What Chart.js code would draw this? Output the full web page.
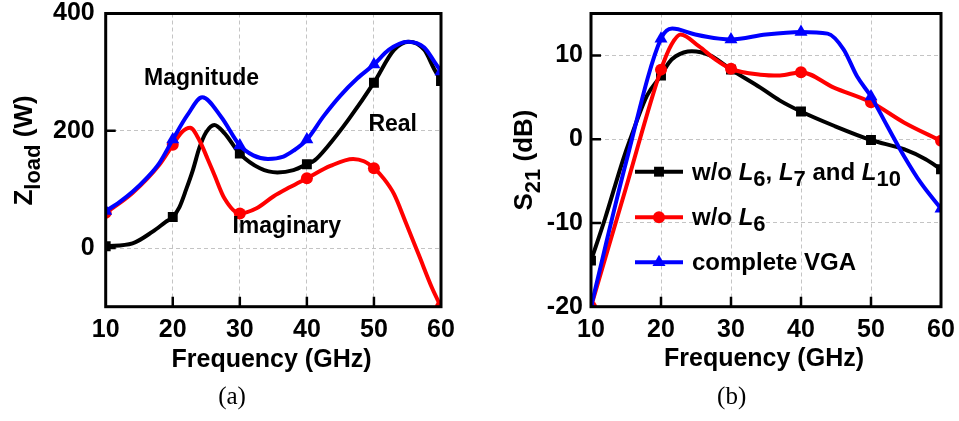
<!DOCTYPE html>
<html><head><meta charset="utf-8">
<script src="https://cdn.jsdelivr.net/npm/chart.js@4.4.1/dist/chart.umd.min.js"></script>
<style>
html,body{margin:0;padding:0;background:#fff;width:959px;height:421px;overflow:hidden}
canvas{position:absolute;top:0}
#ca{left:0}
#cb{left:480px}
</style></head><body>
<canvas id="ca" width="480" height="421"></canvas>
<canvas id="cb" width="479" height="421"></canvas>
<script>
const FONT = "'Liberation Sans', Arial, Helvetica, sans-serif";
const SERIF = "'Liberation Serif', 'Times New Roman', serif";

// ---------- shared x axis ----------
const freqMarks = [10, 20, 30, 40, 50, 60];
const freqTicks = [10, 20, 30, 40, 50, 60];
const freqTickLabels = ['10', '20', '30', '40', '50', '60'];

// ---------- panel (a): Z_load ----------
const zTicks = [0, 200, 400];
const zTickLabels = ['0', '200', '400'];
const magMarks  = [63, 185, 175, 185, 313, 301];
const realMarks = [3, 53, 161, 143, 282, 285];
const imagMarks = [60, 176, 59, 119, 136, -100];

const magCurveF = [10, 12, 14, 16, 18, 20, 22.2, 24.4, 27.2, 30, 32, 34.2, 36.5, 38, 40, 42.5, 45, 47.5, 50, 52.2, 55, 57.5, 59, 60];
const magCurveV = [63, 78, 96, 118, 145, 185, 227, 257, 224, 175, 158, 152, 156, 166, 185, 225, 260, 289, 313, 338, 352, 342, 318, 301];

const realCurveF = [10, 14, 17, 19, 20, 21, 22, 23, 24, 25, 26.2, 27.7, 30, 33, 35.6, 38, 40, 41.2, 43, 46.2, 50, 53, 55.2, 57.5, 59, 60];
const realCurveV = [3, 8, 28, 45, 53, 70, 100, 133, 172, 198, 210, 196, 161, 136, 129, 133, 143, 150, 172, 219, 282, 338, 352, 338, 305, 285];

const imagCurveF = [10, 14, 18, 20, 21.3, 22.6, 24, 25.2, 26.2, 27.7, 30, 32.5, 35, 37.5, 40, 43.5, 46.9, 48.5, 50, 51.5, 53, 54.7, 56.7, 58.7, 60];
const imagCurveV = [60, 94, 142, 176, 197, 205, 183, 152, 125, 85, 59, 68, 88, 104, 119, 140, 152, 148, 136, 118, 92, 45, -12, -69, -100];

// ---------- panel (b): S21 ----------
const sTicks = [-20, -10, 0, 10];
const sTickLabels = ['-20', '-10', '0', '10'];
const noL6L7L10Marks = [-14.5, 7.6, 8.3, 3.3, -0.1, -3.6];
const noL6Marks      = [-20, 8.3, 8.4, 8.0, 4.4, -0.2];
const vgaMarks       = [-20, 12.0, 11.9, 12.8, 5.1, -8.3];

const noL6L7L10CurveF = [10, 12, 14.6, 15.6, 18, 20, 21.1, 22.1, 24.4, 27, 30, 34.2, 37, 40, 44.7, 50, 54.7, 57.8, 60];
const noL6L7L10CurveV = [-14.5, -9.5, -2.4, 0, 5.2, 7.6, 9.1, 9.9, 10.5, 10.0, 8.3, 6.15, 4.6, 3.3, 1.6, -0.1, -1.2, -2.4, -3.6];

const noL6CurveF = [10, 15, 20, 21.5, 22.8, 25.4, 27.8, 30, 34.2, 37, 40, 44.7, 50, 54.7, 60];
const noL6CurveV = [-20, -5.8, 8.3, 11.3, 12.5, 11.1, 9.5, 8.4, 7.7, 7.6, 8.0, 6.15, 4.4, 2.0, -0.2];

const vgaCurveF = [10, 15, 20, 21.6, 24.9, 28.3, 30, 35, 40, 43.8, 46.1, 48, 50, 52.3, 54.7, 57.1, 60];
const vgaCurveV = [-20, -2.8, 12.0, 13.2, 12.5, 12.0, 11.9, 12.5, 12.8, 12.6, 10.7, 7.5, 5.1, 1.6, -2.0, -5.2, -8.3];

const BLACK = '#000000', RED = '#ff0000', BLUE = '#0000ff';

// ---------- helpers ----------
function curve(xs, ys, color, order) {
  return { data: xs.map((x, i) => ({ x, y: ys[i] })), borderColor: color, borderWidth: 4,
    pointRadius: 0, pointHoverRadius: 0, tension: 0.4, cubicInterpolationMode: 'monotone',
    fill: false, clip: 0, order };
}
function marks(ys, color, style, r, order) {
  return { data: freqMarks.map((x, i) => ({ x, y: ys[i] })), showLine: false, pointStyle: style,
    pointRadius: r, pointHoverRadius: r, pointBackgroundColor: color, pointBorderColor: color,
    pointBorderWidth: 0, clip: 0, order };
}
function drawRich(ctx, x, y, parts, size, subSize, subDy, align) {
  const fontFor = f => (f.includes('i') ? 'italic ' : '') + 'bold ' + (f.includes('s') ? subSize : size) + 'px ' + FONT;
  let w = 0;
  parts.forEach(([t, f]) => { ctx.font = fontFor(f); w += ctx.measureText(t).width; });
  let cx = align === 'center' ? x - w / 2 : x;
  ctx.textAlign = 'left'; ctx.textBaseline = 'alphabetic';
  parts.forEach(([t, f]) => {
    ctx.font = fontFor(f);
    ctx.fillText(t, cx, y + (f.includes('s') ? subDy : 0));
    cx += ctx.measureText(t).width;
  });
}
function frameAndTicks(chart) {
  const { ctx, chartArea: a, scales: { x, y } } = chart;
  ctx.save();
  ctx.strokeStyle = '#000';
  ctx.lineWidth = 2.5;
  ctx.beginPath();
  x.ticks.forEach(t => {
    if (t.value <= x.min || t.value >= x.max) return;
    const px = x.getPixelForValue(t.value);
    ctx.moveTo(px, a.bottom); ctx.lineTo(px, a.bottom - 10);
  });
  y.ticks.forEach(t => {
    if (t.value <= y.min || t.value >= y.max) return;
    const py = y.getPixelForValue(t.value);
    ctx.moveTo(a.left, py); ctx.lineTo(a.left + 10, py);
  });
  ctx.stroke();
  ctx.lineWidth = 3;
  ctx.strokeRect(a.left, a.top, a.right - a.left, a.bottom - a.top);
  ctx.restore();
}
function scalesFor(yMin, yMax, yTicks, yLabels, yWidth, yPad) {
  return {
    x: {
      type: 'linear', min: 10, max: 60,
      afterBuildTicks: s => { s.ticks = freqTicks.map(v => ({ value: v })); },
      afterFit: s => { s.height = 114.3; s.paddingLeft = 0; s.paddingRight = 0; },
      grid: { color: '#c4c4c4', lineWidth: 1, drawTicks: false },
      border: { display: false, dash: [4, 3] },
      ticks: { color: '#000', font: { family: FONT, size: 25, weight: 'bold' }, padding: 8,
        maxRotation: 0, autoSkip: false,
        callback: v => freqTickLabels[freqTicks.indexOf(v)] }
    },
    y: {
      type: 'linear', min: yMin, max: yMax,
      afterBuildTicks: s => { s.ticks = yTicks.map(v => ({ value: v })); },
      afterFit: s => { s.width = yWidth; s.paddingTop = 0; s.paddingBottom = 0; },
      grid: { color: '#c4c4c4', lineWidth: 1, drawTicks: false },
      border: { display: false, dash: [4, 3] },
      ticks: { color: '#000', font: { family: FONT, size: 25, weight: 'bold' }, padding: yPad,
        autoSkip: false, callback: v => yLabels[yTicks.indexOf(v)] }
    }
  };
}
const common = {
  responsive: false, animation: false, devicePixelRatio: 1,
  events: [],
  plugins: { legend: { display: false }, tooltip: { enabled: false } }
};

// ---------- chart (a) ----------
new Chart(document.getElementById('ca'), {
  type: 'line',
  data: { datasets: [
    curve(magCurveF, magCurveV, BLUE, 1),
    marks(magMarks, BLUE, 'triangle', 7.5, 1),
    curve(imagCurveF, imagCurveV, RED, 2),
    marks(imagMarks, RED, 'circle', 6, 2),
    curve(realCurveF, realCurveV, BLACK, 3),
    marks(realMarks, BLACK, 'rect', 7, 3)
  ]},
  options: Object.assign({}, common, {
    layout: { padding: { left: 0, top: 13.5, right: 39, bottom: 0 } },
    scales: scalesFor(-100, 400, zTicks, zTickLabels, 105.7, 11)
  }),
  plugins: [{
    id: 'decoA',
    afterDatasetsDraw: chart => frameAndTicks(chart),
    afterDraw: chart => {
      const { ctx, scales: { x, y } } = chart;
      ctx.save();
      ctx.fillStyle = '#000';
      ctx.font = 'bold 23px ' + FONT; ctx.textAlign = 'center'; ctx.textBaseline = 'alphabetic';
      ctx.fillText('Magnitude', x.getPixelForValue(24.3), y.getPixelForValue(278));
      ctx.fillText('Real', x.getPixelForValue(52.8), y.getPixelForValue(200));
      ctx.fillText('Imaginary', x.getPixelForValue(37.0), y.getPixelForValue(25));
      ctx.font = 'bold 25px ' + FONT;
      ctx.fillText('Frequency (GHz)', 271.5, 367);
      ctx.font = '25px ' + SERIF;
      ctx.fillText('(a)', 232, 404);
      ctx.translate(32, 150.5); ctx.rotate(-Math.PI / 2);
      drawRich(ctx, 0, 0, [['Z', ''], ['load', 's'], [' (W)', '']], 26, 22, 8, 'center');
      ctx.restore();
    }
  }]
});

// ---------- chart (b) ----------
const legendRows = [
  { color: BLACK, style: 'rect', r: 7, parts: [['w/o ', ''], ['L', 'i'], ['6', 's'], [', ', ''], ['L', 'i'], ['7', 's'], [' and ', ''], ['L', 'i'], ['10', 's']] },
  { color: RED, style: 'circle', r: 6, parts: [['w/o ', ''], ['L', 'i'], ['6', 's']] },
  { color: BLUE, style: 'triangle', r: 7.5, parts: [['complete VGA', '']] }
];
new Chart(document.getElementById('cb'), {
  type: 'line',
  data: { datasets: [
    curve(vgaCurveF, vgaCurveV, BLUE, 1),
    marks(vgaMarks, BLUE, 'triangle', 7.5, 1),
    curve(noL6CurveF, noL6CurveV, RED, 2),
    marks(noL6Marks, RED, 'circle', 6, 2),
    curve(noL6L7L10CurveF, noL6L7L10CurveV, BLACK, 3),
    marks(noL6L7L10Marks, BLACK, 'rect', 7, 3)
  ]},
  options: Object.assign({}, common, {
    layout: { padding: { left: 0, top: 13.5, right: 18, bottom: 0 } },
    scales: scalesFor(-20, 15, sTicks, sTickLabels, 111, 8)
  }),
  plugins: [{
    id: 'decoB',
    afterDatasetsDraw: chart => frameAndTicks(chart),
    afterDraw: chart => {
      const { ctx } = chart;
      ctx.save();
      ctx.fillStyle = '#000';
      const rowY = [171.7, 217.3, 262.3];
      legendRows.forEach((row, i) => {
        const yy = rowY[i];
        ctx.strokeStyle = row.color; ctx.lineWidth = 4;
        ctx.beginPath(); ctx.moveTo(155, yy); ctx.lineTo(203, yy); ctx.stroke();
        ctx.fillStyle = row.color; ctx.strokeStyle = row.color;
        Chart.helpers.drawPoint(ctx, { pointStyle: row.style, radius: row.r, rotation: 0, borderWidth: 0 }, 179, yy);
        ctx.fillStyle = '#000';
        drawRich(ctx, 212, yy + 8, row.parts, 24, 22, 6, 'left');
      });
      ctx.font = 'bold 25px ' + FONT; ctx.textAlign = 'center'; ctx.textBaseline = 'alphabetic';
      ctx.fillText('Frequency (GHz)', 284, 366);
      ctx.font = '25px ' + SERIF;
      ctx.fillText('(b)', 251.7, 404);
      ctx.translate(52, 160); ctx.rotate(-Math.PI / 2);
      drawRich(ctx, 0, 0, [['S', ''], ['21', 's'], [' (dB)', '']], 26, 22, 8, 'center');
      ctx.restore();
    }
  }]
});
</script>
</body></html>
